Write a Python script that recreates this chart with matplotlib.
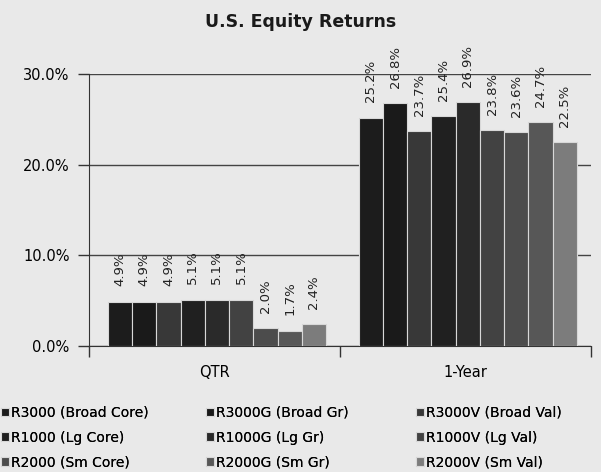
import matplotlib.pyplot as plt
import numpy as np

# data
periods = ['QTR', '1-Year']
series = ['R3000 (Broad Core)', 'R3000G (Broad Gr)', 'R3000V (Broad Val)',
          'R1000 (Lg Core)', 'R1000G (Lg Gr)', 'R1000V (Lg Val)',
          'R2000 (Sm Core)', 'R2000G (Sm Gr)', 'R2000V (Sm Val)']
qtr = [4.9, 4.9, 4.9, 5.1, 5.1, 5.1, 2.0, 1.7, 2.4]
one_year = [25.2, 26.8, 23.7, 25.4, 26.9, 23.8, 23.6, 24.7, 22.5]
colors = ['#1c1c1c', '#1a1a1a', '#383838', '#202020', '#2a2a2a',
          '#424242', '#4c4c4c', '#575757', '#7c7c7c']

bg = '#e9e9e9'
plt.rcParams['font.family'] = ['DejaVu Sans']

fig = plt.figure(figsize=(6.01, 4.72), dpi=100, facecolor=bg)
ax = fig.add_axes([0.148, 0.267, 0.835, 0.576], facecolor=bg)

n = len(series)
group_w = 0.87
w = group_w / n
x = np.arange(len(periods)) + 0.5
handles = []
for i in range(n):
    vals = [qtr[i], one_year[i]]
    pos = x - group_w / 2 + w * (i + 0.5) + 0.01
    b = ax.bar(pos, vals, w, color=colors[i], edgecolor='#d8d8d8',
               linewidth=0.8, label=series[i], zorder=3)
    handles.append(b)
    for p, v in zip(pos, vals):
        ax.annotate(f'{v:.1f}%', (p, v), xytext=(0, 11),
                    textcoords='offset points', rotation=90,
                    ha='center', va='bottom', fontsize=9.5,
                    color='#222222', annotation_clip=False, zorder=4)

ax.set_xlim(0, 2)
ax.set_ylim(0, 30)
ax.set_yticks([0, 10, 20, 30])
ax.set_yticklabels([f'{t:.1f}%' for t in [0, 10, 20, 30]], fontsize=10.5)
ax.yaxis.grid(True, color='#444444', linewidth=1.0, zorder=0)
ax.set_axisbelow(True)
ax.tick_params(axis='y', length=8, width=1, color='#333333', pad=6)

ax.set_xticks([0, 1, 2])
ax.set_xticklabels([])
ax.set_xticks(x, minor=True)
ax.set_xticklabels(periods, minor=True, fontsize=10.5)
ax.tick_params(axis='x', which='major', length=8, width=1, color='#333333')
ax.tick_params(axis='x', which='minor', length=0, pad=14)

for s in ['top', 'right']:
    ax.spines[s].set_visible(False)
ax.spines['left'].set_color('#333333')
ax.spines['bottom'].set_color('#333333')

fig.text(0.5, 0.953, 'U.S. Equity Returns', ha='center', va='center',
         fontsize=12.5, fontweight='bold', color='#1a1a1a')

# legend, three columns laid out row by row
col_x = [-0.003, 0.338, 0.687]
for c in range(3):
    hs = [handles[c + 3 * r] for r in range(3)]
    leg = fig.legend(hs, [h.get_label() for h in hs], loc='upper left',
                     bbox_to_anchor=(col_x[c], 0.146), frameon=False,
                     fontsize=10, handlelength=0.6, handleheight=0.6,
                     handletextpad=0.15, labelspacing=0.78,
                     borderaxespad=0, borderpad=0.2)
    fig.add_artist(leg)

fig.savefig('out.png', dpi=100, facecolor=bg)
